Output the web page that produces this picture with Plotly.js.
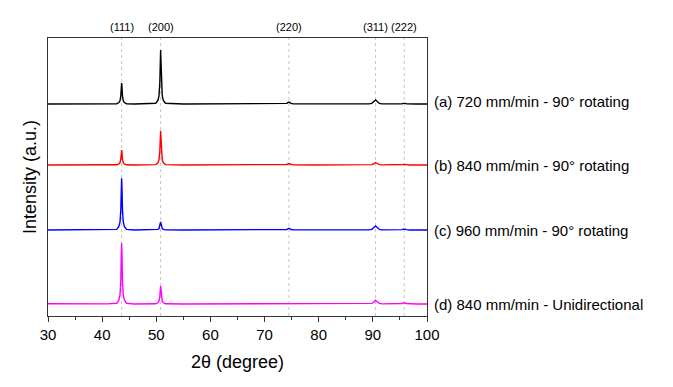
<!DOCTYPE html>
<html>
<head>
<meta charset="utf-8">
<script src="https://cdn.plot.ly/plotly-3.0.1.min.js"></script>
<style>html,body{margin:0;padding:0;background:#fff;}</style>
</head>
<body>
<div id="chart" style="width:673px;height:387px;"></div>
<script>
// 2θ sample positions (degrees)
const twoTheta = [30, 33, 36, 39, 41,
  42.7, 43.1, 43.3, 43.45, 43.53, 43.6, 43.67, 43.75, 43.9, 44.1, 44.5,
  46, 48,
  49.9, 50.3, 50.5, 50.65, 50.73, 50.8, 50.87, 50.95, 51.1, 51.3, 51.7,
  55, 60, 65, 70,
  73.7, 74.1, 74.3, 74.5, 74.7, 74.9, 75.3,
  79, 84, 87,
  89.3, 89.8, 90.1, 90.35, 90.5, 90.65, 90.9, 91.2, 91.7,
  93,
  94.8, 95.4, 95.65, 95.8, 95.95, 96.2, 96.8,
  98, 100];

// Intensities (a.u., stacked with vertical offset)
const seriesA = [212, 212, 212, 212, 212.2,
  212.3, 213.5, 215.2, 220.4, 228.5, 233, 228.5, 220.4, 215.2, 213.5, 212.3,
  212, 212,
  212.7, 215.5, 220, 233, 254, 266, 254, 233, 220, 215.5, 212.7,
  212, 212, 212, 212,
  212.1, 212.6, 213.4, 214, 213.4, 212.6, 212.1,
  212, 212, 212,
  212.1, 212.6, 213.6, 215.2, 216, 215.2, 213.8, 212.6, 212.1,
  212,
  212, 212.3, 212.6, 212.8, 212.6, 212.3, 212,
  212, 212];

const seriesB = [151, 151, 151, 151, 151.1,
  151.2, 152, 153.3, 157, 163, 166, 163, 157, 153.3, 152, 151.2,
  151, 151,
  151.4, 153.2, 156.2, 164.5, 178, 185.3, 178, 164.5, 156.2, 153.2, 151.4,
  151, 151, 151, 151,
  151.1, 151.5, 152, 152.5, 152, 151.5, 151.1,
  151, 151, 151,
  151.1, 151.4, 152, 153, 153.5, 153, 152.1, 151.4, 151.1,
  151,
  151, 151.2, 151.5, 151.6, 151.5, 151.2, 151,
  151, 151];

const seriesC = [86, 86, 86, 86, 86.1,
  86.6, 89.5, 94, 106.5, 127, 137.7, 127, 106.5, 94, 89.5, 86.6,
  86, 86,
  86.1, 86.6, 87.4, 89.5, 92.5, 94, 92.5, 89.5, 87.4, 86.6, 86.1,
  86, 86, 86, 86,
  86.1, 86.5, 87.2, 87.7, 87.2, 86.5, 86.1,
  86, 86, 86,
  86.1, 86.6, 87.6, 89.2, 90, 89.2, 87.8, 86.6, 86.1,
  86,
  86, 86.4, 86.8, 87, 86.8, 86.4, 86,
  86, 86];

const seriesD = [12.3, 12.2, 12.1, 12, 12.1,
  12.7, 16, 21, 35.5, 60, 72.7, 60, 35.5, 21, 16, 12.7,
  12, 12,
  12.2, 13.2, 14.8, 19.5, 26.5, 30, 26.5, 19.5, 14.8, 13.2, 12.2,
  12, 12, 12, 12,
  12, 12.2, 12.4, 12.5, 12.4, 12.2, 12,
  12, 12, 12,
  12.1, 12.6, 13.5, 15, 15.7, 15, 13.7, 12.6, 12.1,
  12,
  12.1, 12.5, 13, 13.3, 13, 12.5, 12.1,
  12, 12];

const seriesNames = ["(a) 720 mm/min - 90° rotating",
  "(b) 840 mm/min - 90° rotating",
  "(c) 960 mm/min - 90° rotating",
  "(d) 840 mm/min - Unidirectional"];
const seriesColors = ["#000000", "#ff0000", "#0000ff", "#ff00ff"];

const peakPositions = [43.6, 50.8, 74.5, 90.5, 95.8];
const peakLabels = ["(111)", "(200)", "(220)", "(311)", "(222)"];

const FONT = "Arial, 'Liberation Sans', sans-serif";
const allSeries = [seriesA, seriesB, seriesC, seriesD];

const traces = allSeries.map((ys, i) => ({
  x: twoTheta, y: ys, type: "scatter", mode: "lines",
  name: seriesNames[i], line: {color: seriesColors[i], width: 1.4},
  showlegend: false, hoverinfo: "skip"
}));

const shapes = peakPositions.map(p => ({
  type: "line", xref: "x", yref: "paper", x0: p, x1: p, y0: 0, y1: 1,
  line: {color: "#c4c4c4", width: 1, dash: "3px,3px"}, layer: "below"
}));

const annotations = [];
peakPositions.forEach((p, i) => annotations.push({
  x: p, xref: "x", y: 1, yref: "paper", yanchor: "bottom", xanchor: "center",
  yshift: 3, text: peakLabels[i], showarrow: false,
  font: {family: FONT, size: 11, color: "#000"}
}));
allSeries.forEach((ys, i) => annotations.push({
  x: 1, xref: "paper", xanchor: "left", xshift: 5,
  y: ys[ys.length - 1], yref: "y", yanchor: "middle", yshift: (i === 0 ? 3 : 0),
  text: seriesNames[i], showarrow: false,
  font: {family: FONT, size: 15, color: "#000"}
}));

const layout = {
  width: 673, height: 387,
  margin: {l: 48, r: 246, t: 38, b: 71, pad: 0},
  paper_bgcolor: "#fff", plot_bgcolor: "#fff",
  font: {family: FONT, color: "#000"},
  xaxis: {
    range: [30, 100], dtick: 10, tick0: 30,
    ticks: "outside", ticklen: 5, tickwidth: 1, tickcolor: "#333",
    minor: {dtick: 5, ticks: "outside", ticklen: 3, tickcolor: "#333"},
    showline: true, mirror: true, linecolor: "#333", linewidth: 1,
    showgrid: false, zeroline: false,
    tickfont: {family: FONT, size: 15, color: "#000"},
    title: {text: "2θ (degree)", font: {family: FONT, size: 18, color: "#000"}, standoff: 13}
  },
  yaxis: {
    range: [0, 278], showticklabels: false, ticks: "",
    showline: true, mirror: true, linecolor: "#333", linewidth: 1,
    showgrid: false, zeroline: false,
    title: {text: "Intensity (a.u.)", font: {family: FONT, size: 18, color: "#000"}, standoff: 5}
  },
  shapes: shapes,
  annotations: annotations
};

Plotly.newPlot("chart", traces, layout, {displayModeBar: false, staticPlot: true});
</script>
</body>
</html>
